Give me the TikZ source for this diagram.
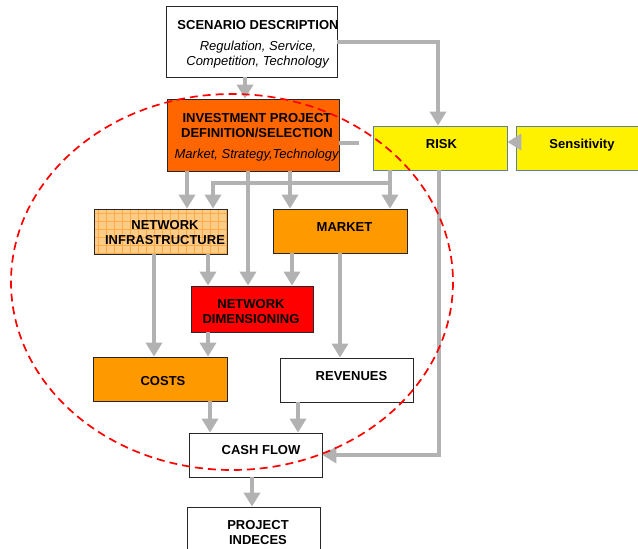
\documentclass[tikz,border=0pt]{standalone}
\usepackage{fontspec}
\setmainfont{Liberation Sans}
\usetikzlibrary{arrows.meta}
\definecolor{arrgray}{HTML}{B2B2B2}
\definecolor{invorange}{HTML}{FF6600}
\definecolor{midorange}{HTML}{FF9900}
\definecolor{lightorange}{HTML}{FFCC88}
\definecolor{gridorange}{HTML}{FFAA44}
\definecolor{riskborder}{HTML}{5F7F9F}
\begin{document}
\begin{tikzpicture}[x=1pt,y=-1pt,
  box/.style={draw=black!85, line width=0.8pt, inner sep=0pt, anchor=center},
  arr/.style={draw=arrgray, line width=4pt, -{Triangle[length=14pt,width=16pt]}},
  plainline/.style={draw=arrgray, line width=4pt},
  lbl/.style={anchor=base, inner sep=0pt, align=center, text=black,
    font=\fontsize{13}{15}\selectfont\bfseries},
  zone/.style={draw=red, line width=1.7pt, dash pattern=on 8pt off 5pt}
]
\useasboundingbox (0,0) rectangle (638,549);
\clip (0,0) rectangle (638,549);

% boxes
\node[box, fill=white, minimum width=171pt, minimum height=71pt] (scen) at (251.5,41.5) {};
\node[box, fill=invorange, minimum width=172pt, minimum height=72pt] (inv) at (253,135) {};
\node[box, draw=riskborder, fill=yellow, minimum width=134pt, minimum height=44pt] (risk) at (440,148) {};
\node[box, draw=riskborder, fill=yellow, minimum width=134pt, minimum height=44pt] (sens) at (583,148) {};
\node[box, fill=lightorange, minimum width=133pt, minimum height=45pt] (infra) at (160.5,231.5) {};
\begin{scope}
  \clip (infra.south west) rectangle (infra.north east);
  \foreach \gx in {98,106,...,226} \draw[gridorange, line width=0.5pt] (\gx,209) -- (\gx,254);
  \foreach \gy in {213,221,...,253} \draw[gridorange, line width=0.5pt] (94,\gy) -- (227,\gy);
\end{scope}
\node[box, minimum width=133pt, minimum height=45pt] (infraframe) at (infra.center) {};
\node[box, fill=midorange, minimum width=134pt, minimum height=44pt] (market) at (340,231) {};
\node[box, fill=red, minimum width=122pt, minimum height=46pt] (nd) at (252,309) {};
\node[box, fill=midorange, minimum width=134pt, minimum height=44pt] (costs) at (160,379) {};
\node[box, fill=white, minimum width=133pt, minimum height=44pt] (rev) at (346.5,380) {};
\node[box, fill=white, minimum width=133pt, minimum height=44pt] (cash) at (255.5,455) {};
\node[box, fill=white, minimum width=133pt, minimum height=54pt] (proj) at (253.5,534) {};

% labels (base = baseline of the last line)
\node[lbl] (tscen) at (258,65) {SCENARIO DESCRIPTION\\[6pt]\textmd{\textit{Regulation, Service,}}\\\textmd{\textit{Competition, Technology}}};
\node[lbl] (tinv) at (257,158) {INVESTMENT PROJECT\\DEFINITION/SELECTION\\[6pt]\textmd{\textit{Market, Strategy,Technology}}};
\node[lbl] (trisk) at (441.5,148) {RISK};
\node[lbl] (tsens) at (582,148) {Sensitivity};
\node[lbl] (tinfra) at (165,244) {NETWORK\\INFRASTRUCTURE};
\node[lbl] (tmarket) at (344.5,231) {MARKET};
\node[lbl] (tnd) at (251,323) {NETWORK\\DIMENSIONING};
\node[lbl] (tcosts) at (163,385) {COSTS};
\node[lbl] (trev) at (351.5,380) {REVENUES};
\node[lbl] (tcash) at (261,454) {CASH FLOW};
\node[lbl] (tproj) at (258,544) {PROJECT\\INDECES};

% connectors
\coordinate (stubend) at (359,143);
\coordinate (j1) at (390,183);
\draw[arr] ([xshift=-6.5pt]scen.south) -- ([xshift=-8pt]inv.north);
\draw[arr] (scen.east) -| ([xshift=-2pt]risk.north);
\draw[arr] ([yshift=6pt]sens.west) -- ([yshift=6pt]risk.east);
\draw[plainline] ([yshift=-8pt]inv.east) -- (stubend);
\draw[arr] ([xshift=-66pt]inv.south) -- ([xshift=26.5pt]infra.north);
\draw[arr] ([xshift=-5pt]inv.south) -- ([xshift=-4pt]nd.north);
\draw[arr] ([xshift=37pt]inv.south) -- ([xshift=-50pt]market.north);
\draw[arr] ([xshift=-50pt]risk.south) -- ([xshift=50pt]market.north);
\draw[arr] (j1) -| ([xshift=52.5pt]infra.north);
\draw[arr] ([xshift=-1pt]risk.south) |- (cash.east);
\draw[arr] ([xshift=-6.5pt]infra.south) -- ([xshift=-6pt]costs.north);
\draw[arr] ([xshift=47.5pt]infra.south) -- ([xshift=-44pt]nd.north);
\draw[arr] ([xshift=-48pt]market.south) -- ([xshift=40pt]nd.north);
\draw[arr] (market.south) -- ([xshift=-6.5pt]rev.north);
\draw[arr] ([xshift=-44pt]nd.south) -- ([xshift=48pt]costs.north);
\draw[arr] ([xshift=50pt]costs.south) -- ([xshift=-45.5pt]cash.north);
\draw[arr] ([xshift=-48.5pt]rev.south) -- ([xshift=42.5pt]cash.north);
\draw[arr] ([xshift=-3.5pt]cash.south) -- ([xshift=-1.5pt]proj.north);

% dashed zone
\draw[zone] (232,282) ellipse [x radius=221, y radius=188];
\end{tikzpicture}
\end{document}
